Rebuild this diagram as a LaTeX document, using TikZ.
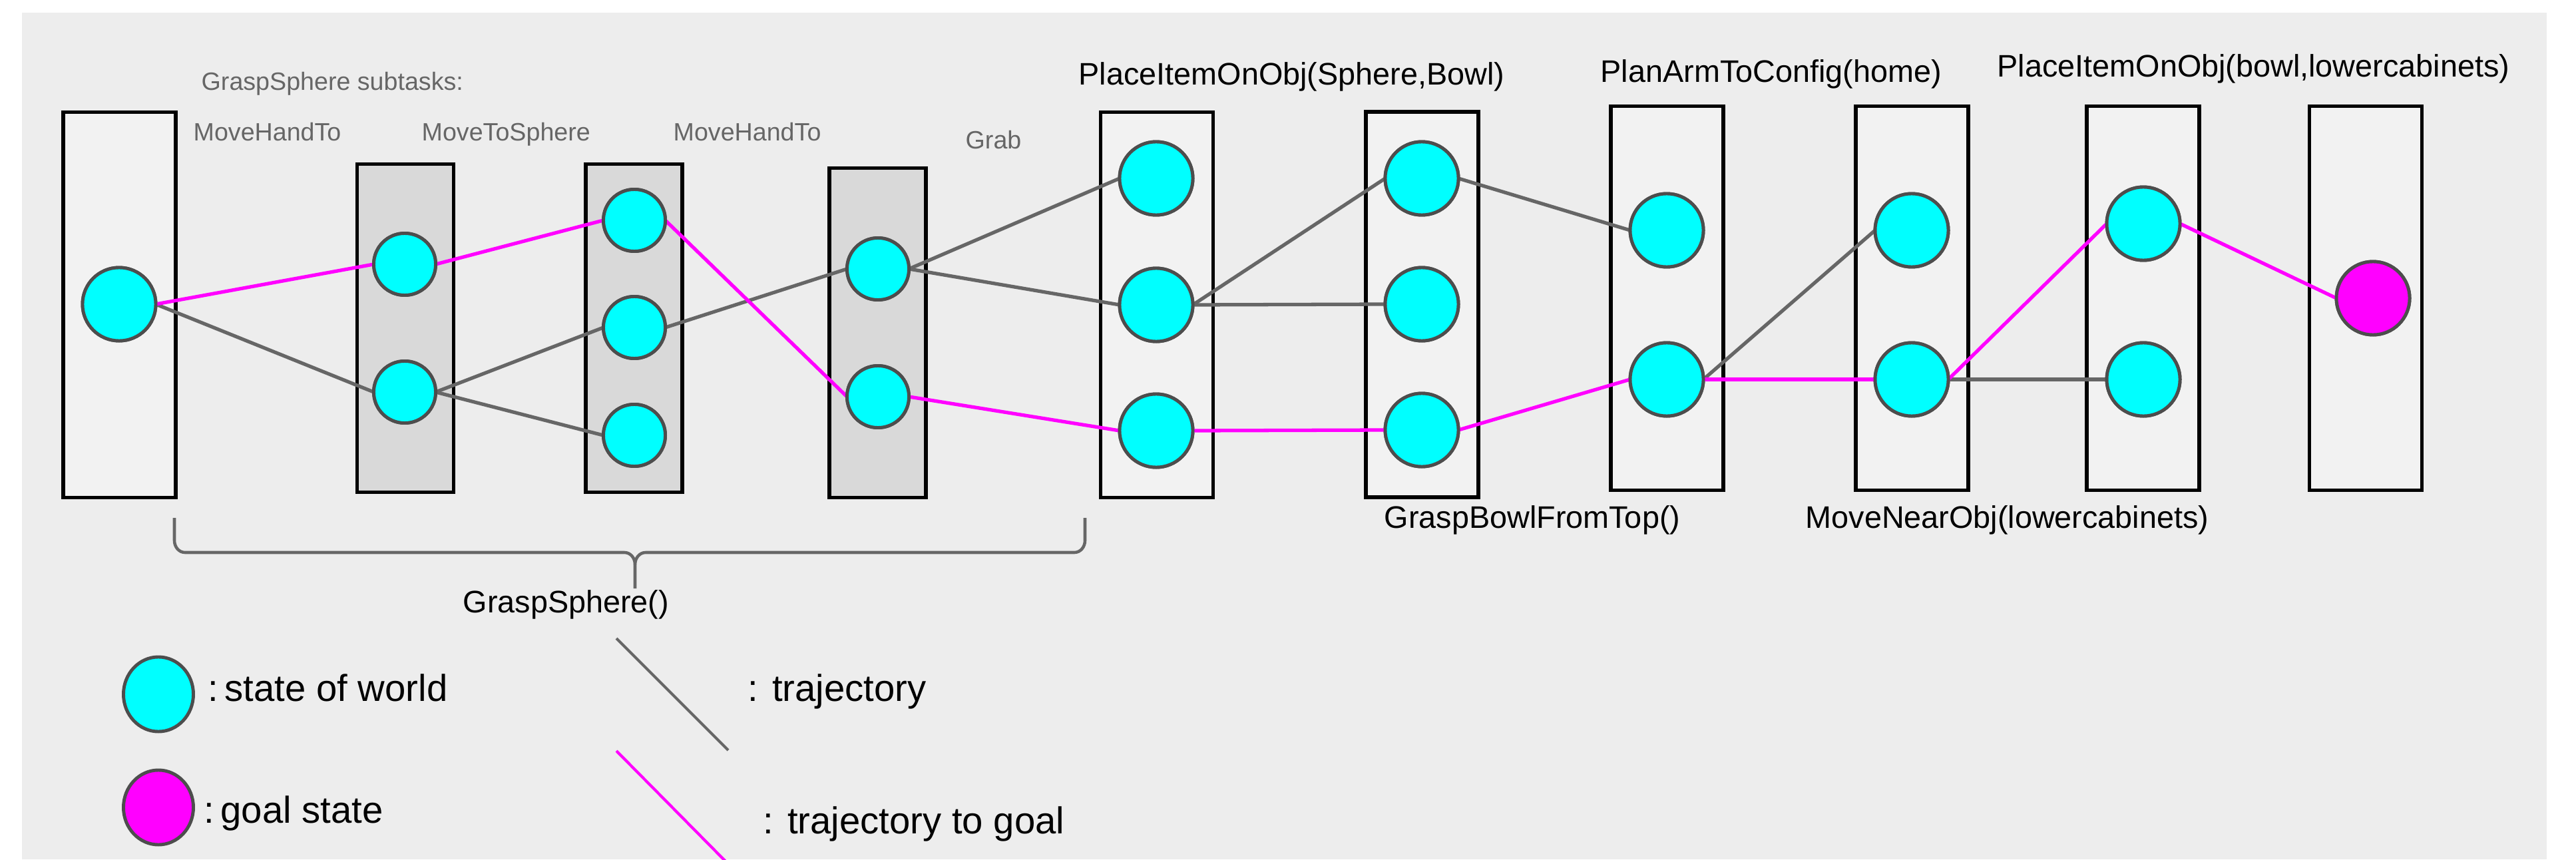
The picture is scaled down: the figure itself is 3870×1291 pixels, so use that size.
\documentclass[tikz,border=0pt]{standalone}
\usepackage{fontspec}
\setmainfont{Liberation Sans}
\usetikzlibrary{shapes.geometric}
\definecolor{bgc}{HTML}{EDEDED}
\definecolor{lboxc}{HTML}{F2F2F2}
\definecolor{dboxc}{HTML}{D9D9D9}
\definecolor{trajc}{HTML}{666666}
\definecolor{ringc}{HTML}{4D4D4D}
\definecolor{subc}{HTML}{666666}
\definecolor{cyanc}{HTML}{00FFFF}
\definecolor{magc}{HTML}{FF00FF}
\begin{document}
\begin{tikzpicture}[x=0.01cm,y=-0.01cm,
  lightbox/.style={draw=black,fill=lboxc,line width=1.6pt,minimum width=1.69cm,minimum height=5.79cm,inner sep=0,outer sep=0},
  darkbox/.style={draw=black,fill=dboxc,line width=1.6pt,minimum width=1.45cm,minimum height=4.93cm,inner sep=0,outer sep=0},
  bigstate/.style={circle,draw=ringc,fill=cyanc,line width=1.4pt,minimum size=1.10cm,inner sep=0,outer sep=0},
  smallstate/.style={circle,draw=ringc,fill=cyanc,line width=1.4pt,minimum size=0.93cm,inner sep=0,outer sep=0},
  goalstate/.style={bigstate,fill=magc},
  trajline/.style={draw=trajc,line width=1.5pt},
  goalline/.style={draw=magc,line width=1.5pt},
  sublabel/.style={anchor=base west,inner sep=0,text=subc,font=\fontsize{10.7}{13}\selectfont},
  mainlabel/.style={anchor=base west,inner sep=0,text=black,font=\fontsize{13.3}{16}\selectfont},
  leglabel/.style={anchor=base west,inner sep=0,text=black,font=\fontsize{16}{19}\selectfont},
  legstate/.style={ellipse,draw=ringc,line width=1.4pt,minimum width=1.05cm,minimum height=1.12cm,inner sep=0},
  bracec/.style={draw=trajc,line width=1.3pt}
]
\useasboundingbox (0,0) rectangle (3870,1291);
\fill[white] (0,0) rectangle (3870,1291);
\fill[bgc] (33,19) rectangle (3826,1291);

% boxes
\node[lightbox] (b1) at (179.5,458) {};
\node[darkbox] (b2) at (609,493) {};
\node[darkbox] (b3) at (952.5,493) {};
\node[darkbox,minimum height=4.95cm] (b4) at (1318.5,500) {};
\node[lightbox] (b5) at (1738,458) {};
\node[lightbox] (b6) at (2136.5,457.5) {};
\node[lightbox,minimum height=5.77cm] (b7) at (2504.5,448) {};
\node[lightbox,minimum height=5.77cm] (b8) at (2872.5,448) {};
\node[lightbox,minimum height=5.77cm] (b9) at (3219.5,448) {};
\node[lightbox,minimum height=5.77cm] (b10) at (3554,448) {};

% states
\node[bigstate] (n11) at (179,457) {};
\node[smallstate] (n21) at (608,397) {};
\node[smallstate] (n22) at (608,589) {};
\node[smallstate] (n31) at (953,331) {};
\node[smallstate] (n32) at (953,492) {};
\node[smallstate] (n33) at (953,654) {};
\node[smallstate] (n41) at (1319,404) {};
\node[smallstate] (n42) at (1319,596) {};
\node[bigstate] (n51) at (1737,268) {};
\node[bigstate] (n52) at (1737,458) {};
\node[bigstate] (n53) at (1737,647) {};
\node[bigstate] (n61) at (2136,268) {};
\node[bigstate] (n62) at (2136,457) {};
\node[bigstate] (n63) at (2136,646) {};
\node[bigstate] (n71) at (2504,346) {};
\node[bigstate] (n72) at (2504,570) {};
\node[bigstate] (n81) at (2872,346) {};
\node[bigstate] (n82) at (2872,570) {};
\node[bigstate] (n91) at (3220,336) {};
\node[bigstate] (n92) at (3220,570) {};
\node[goalstate] (g) at (3565,448) {};

% connectors
\draw[trajline] (n11.east) -- (n22.west);
\draw[trajline] (n22.east) -- (n32.west);
\draw[trajline] (n22.east) -- (n33.west);
\draw[trajline] (n32.east) -- (n41.west);
\draw[trajline] (n41.east) -- (n51.west);
\draw[trajline] (n41.east) -- (n52.west);
\draw[trajline] (n52.east) -- (n61.west);
\draw[trajline] (n52.east) -- (n62.west);
\draw[trajline] (n61.east) -- (n71.west);
\draw[trajline] (n72.east) -- (n81.west);
\draw[trajline] (n82.east) -- (n92.west);
\draw[goalline] (n11.east) -- (n21.west);
\draw[goalline] (n21.east) -- (n31.west);
\draw[goalline] (n31.east) -- (n42.west);
\draw[goalline] (n42.east) -- (n53.west);
\draw[goalline] (n53.east) -- (n63.west);
\draw[goalline] (n63.east) -- (n72.west);
\draw[goalline] (n72.east) -- (n82.west);
\draw[goalline] (n82.east) -- (n91.west);
\draw[goalline] (n91.east) -- (g.west);

% redraw states over connectors
\foreach \n/\s in {n11/bigstate,n21/smallstate,n22/smallstate,n31/smallstate,n32/smallstate,n33/smallstate,n41/smallstate,n42/smallstate,n51/bigstate,n52/bigstate,n53/bigstate,n61/bigstate,n62/bigstate,n63/bigstate,n71/bigstate,n72/bigstate,n81/bigstate,n82/bigstate,n91/bigstate,n92/bigstate}
  \node[\s] at (\n) {};
\node[goalstate] at (g) {};

% labels
\node[sublabel] (tsub) at (302,136) {GraspSphere subtasks:};
\node[sublabel] (t1) at (290,212) {MoveHandTo};
\node[sublabel] (t2) at (633,212) {MoveToSphere};
\node[sublabel] (t3) at (1011,212) {MoveHandTo};
\node[sublabel] (t4) at (1450,224) {Grab};
\node[mainlabel] (t5) at (1620,128) {PlaceItemOnObj(Sphere,Bowl)};
\node[mainlabel] (t6) at (2404,124) {PlanArmToConfig(home)};
\node[mainlabel] (t7) at (3000,116) {PlaceItemOnObj(bowl,lowercabinets)};
\node[mainlabel] (t8) at (2079,793) {GraspBowlFromTop()};
\node[mainlabel] (t9) at (2712,793) {MoveNearObj(lowercabinets)};
\node[mainlabel] (t10) at (695,920) {GraspSphere()};

% brace
\draw[bracec,line join=round] (262,778) -- (262,812) to[out=-90,in=180] (278,830) -- (938,830) to[out=0,in=90] (954,848) -- (954,884);
\draw[bracec,line join=round] (954,848) to[out=90,in=180] (970,830) -- (1614,830) to[out=0,in=-90] (1630,812) -- (1630,778);

% legend
\node[legstate,fill=cyanc] (ls) at (238,1043) {};
\node[legstate,fill=magc] (lg) at (238,1213) {};
\node[leglabel] (ls-t) at (312,1053) {:\,state of world};
\node[leglabel] (lg-t) at (306,1236) {:\,goal state};
\coordinate (lt1) at (926,959);
\coordinate (lt2) at (1094,1127);
\coordinate (lm1) at (926,1128);
\coordinate (lm2) at (1096,1300);
\draw[draw=trajc,line width=1.2pt] (lt1) -- (lt2);
\draw[draw=magc,line width=1.2pt] (lm1) -- (lm2);
\node[leglabel] (lt-t) at (1123,1053) {: trajectory};
\node[leglabel] (lm-t) at (1146,1252) {: trajectory to goal};
\end{tikzpicture}
\end{document}
